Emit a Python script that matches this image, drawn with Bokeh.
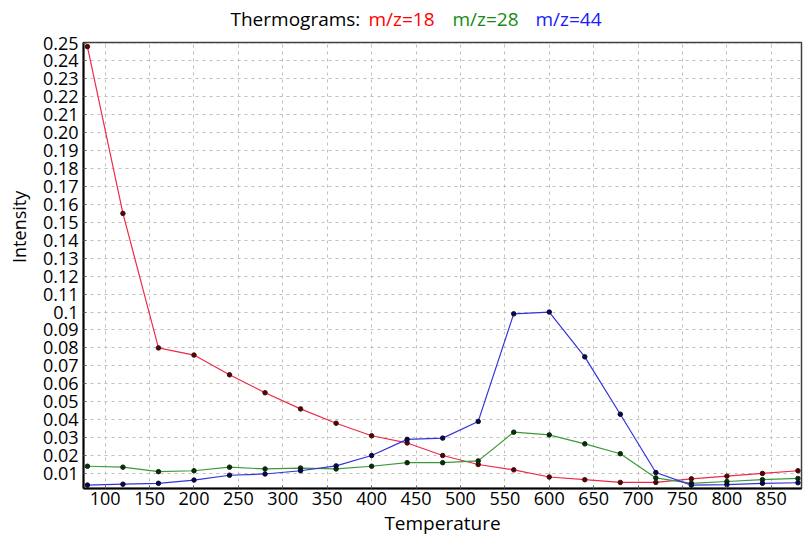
import math
from bokeh.plotting import figure
from bokeh.layouts import column, row
from bokeh.models import Range1d, FixedTicker, Label
from bokeh.embed import file_html
from bokeh.resources import INLINE

# ---- data ----
temps = [80, 120, 160, 200, 240, 280, 320, 360, 400, 440, 480,
         520, 560, 600, 640, 680, 720, 760, 800, 840, 880]
mz18 = [0.248, 0.155, 0.080, 0.076, 0.065, 0.055, 0.046, 0.038, 0.031, 0.027, 0.020,
        0.015, 0.012, 0.008, 0.0065, 0.005, 0.005, 0.007, 0.0085, 0.010, 0.0115]
mz28 = [0.014, 0.0135, 0.011, 0.0115, 0.0135, 0.0125, 0.013, 0.0125, 0.014, 0.016, 0.016,
        0.017, 0.033, 0.0315, 0.0265, 0.021, 0.0075, 0.0045, 0.0055, 0.0065, 0.0072]
mz44 = [0.0035, 0.004, 0.0045, 0.0063, 0.009, 0.0097, 0.0115, 0.0142, 0.020, 0.029, 0.0297,
        0.039, 0.099, 0.100, 0.075, 0.043, 0.0105, 0.0035, 0.0038, 0.0045, 0.0048]

x_ticks = [100, 150, 200, 250, 300, 350, 400, 450, 500, 550, 600, 650, 700, 750, 800, 850]
y_ticks = [round(0.01 * i, 2) for i in range(1, 26)]
y_tick_labels = ["0.01", "0.02", "0.03", "0.04", "0.05", "0.06", "0.07", "0.08", "0.09",
                 "0.1", "0.11", "0.12", "0.13", "0.14", "0.15", "0.16", "0.17", "0.18",
                 "0.19", "0.20", "0.21", "0.22", "0.23", "0.24", "0.25"]

series = [("m/z=18", mz18, "#ee2a48", "#4a0808", "#ff0000"),
          ("m/z=28", mz28, "#3a9a3a", "#0c2a0c", "#148c14"),
          ("m/z=44", mz44, "#3333dd", "#0a0a3a", "#1a1aff")]
title_text = "Thermograms:"
x_title = "Temperature"
y_title = "Intensity"

FONT = "Open Sans"
W, H = 803, 538
TITLE_H = 30
YLAB_W = 32
MAIN_H = H - TITLE_H
MAIN_W = W - YLAB_W


def blank(width, height):
    f = figure(width=width, height=height, output_backend="svg", toolbar_location=None,
               x_range=Range1d(0, width), y_range=Range1d(0, height),
               x_axis_type=None, y_axis_type=None,
               min_border=0, min_border_left=0, min_border_right=0,
               min_border_top=0, min_border_bottom=0)
    f.outline_line_color = None
    f.xgrid.visible = False
    f.ygrid.visible = False
    f.background_fill_color = "white"
    f.border_fill_color = "white"
    return f


# ---- title strip ----
tfig = blank(W, TITLE_H)
title_parts = [(title_text, "black", 230)] + [
    (s[0], s[4], x) for s, x in zip(series, [368, 452, 535])]
for txt, col, xpos in title_parts:
    tfig.add_layout(Label(x=xpos, y=TITLE_H - 18, text=txt,
                          text_color=col, text_font=FONT, text_font_size="19px",
                          text_baseline="middle", text_align="left"))

# ---- y label strip ----
yfig = blank(YLAB_W, MAIN_H)
yfig.add_layout(Label(x=18, y=MAIN_H - (240 - TITLE_H), text=y_title, angle=math.pi / 2,
                      text_color="black", text_font=FONT, text_font_size="18px",
                      text_baseline="middle", text_align="center"))

# ---- main plot ----
p = figure(width=MAIN_W, height=MAIN_H, output_backend="svg", toolbar_location=None,
           x_range=Range1d(75.6, 884.0), y_range=Range1d(0.0016, 0.2503),
           min_border_left=83 - YLAB_W, min_border_right=2, min_border_top=42 - TITLE_H,
           min_border_bottom=10)
p.background_fill_color = "white"
p.border_fill_color = "white"
p.outline_line_color = "#404040"
p.outline_line_width = 1.5

p.xaxis.ticker = FixedTicker(ticks=x_ticks)
p.yaxis.ticker = FixedTicker(ticks=y_ticks)
p.yaxis.major_label_overrides = {t: s for t, s in zip(y_ticks, y_tick_labels)}
for ax in (p.xaxis[0], p.yaxis[0]):
    ax.axis_line_color = "black"
    ax.axis_line_width = 2
    ax.major_tick_in = 3
    ax.major_tick_out = 0
    ax.major_tick_line_color = "#606060"
    ax.minor_tick_line_color = None
    ax.major_label_text_font = FONT
    ax.major_label_text_font_size = "18px"
    ax.major_label_text_color = "black"
    ax.axis_label_text_font = FONT
    ax.axis_label_text_font_size = "19px"
    ax.axis_label_text_font_style = "normal"
    ax.axis_label_text_color = "black"
p.xaxis.axis_label = x_title
p.xaxis.major_label_standoff = 3
p.xaxis.axis_label_standoff = 2
p.yaxis.major_label_standoff = 5

for g in (p.xgrid[0], p.ygrid[0]):
    g.grid_line_color = "#c4bfb4"
    g.grid_line_dash = "3 4"
    g.grid_line_width = 1

for name, vals, lc, mc, tc in series:
    p.line(temps, vals, line_color=lc, line_width=1.2)
for name, vals, lc, mc, tc in series:
    p.scatter(temps, vals, marker="circle", size=4.5, fill_color=mc, line_color=mc)

layout = column(tfig, row(yfig, p, spacing=0), spacing=0)
open("out.html", "w").write(file_html(layout, INLINE))
